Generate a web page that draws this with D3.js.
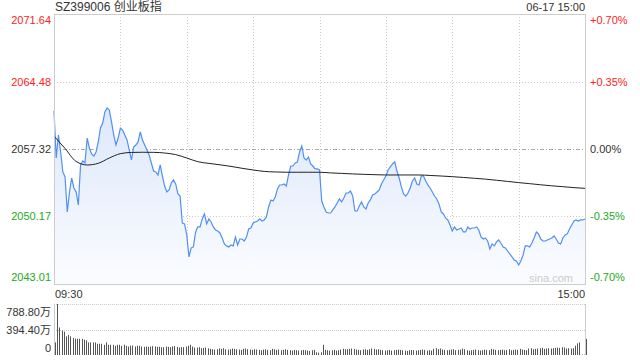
<!DOCTYPE html>
<html>
<head>
<meta charset="utf-8">
<script src="https://cdn.jsdelivr.net/npm/d3@7"></script>
<style>
body { margin:0; background:#fff; }
svg { display:block; font-family:"Liberation Sans", Arial, "Noto Sans CJK SC", sans-serif; }
</style>
</head>
<body>
<svg id="chart" width="640" height="360"></svg>
<script>
// minute prices 09:30 .. 11:30 / 13:01 .. 15:00
var prices = [
2061.35,2056.37,2058.81,2057.01,2054.89,2054.36,2050.65,2052.77,2054.25,2053.19,
2052.77,2051.39,2055.63,2056.05,2055.84,2058.49,2057.43,2056.80,2056.58,2057.01,
2058.07,2059.55,2060.08,2061.25,2061.67,2061.46,2060.19,2058.81,2057.75,2058.49,
2059.55,2059.34,2058.81,2058.28,2057.22,2056.16,2057.54,2057.75,2058.07,2059.13,
2058.28,2057.75,2057.22,2056.69,2055.84,2054.99,2054.89,2054.57,2055.63,2054.46,
2053.40,2052.77,2052.98,2053.72,2054.04,2053.62,2052.56,2052.34,2049.48,2049.38,
2048.21,2045.88,2046.83,2046.94,2048.53,2049.06,2049.06,2049.91,2050.44,2049.38,
2049.91,2049.59,2049.06,2048.74,2048.63,2048.42,2047.89,2047.26,2047.05,2046.94,
2047.15,2047.05,2047.99,2047.15,2047.78,2047.78,2047.57,2047.99,2048.84,2048.95,
2049.48,2049.59,2049.69,2049.91,2049.69,2049.80,2050.12,2051.18,2051.92,2051.81,
2052.24,2053.09,2053.51,2053.51,2053.62,2053.40,2054.57,2055.52,2055.52,2055.84,
2055.95,2057.01,2057.65,2056.37,2056.16,2056.48,2055.74,2055.52,2055.21,2055.21,
2055.10,2051.81,2051.18,2050.65,2050.54,2050.54,2050.86,2051.18,2051.60,2052.03,
2051.71,2052.13,2052.66,2052.66,2052.87,2052.34,2050.75,2050.75,2051.28,2051.71,
2051.18,2050.97,2051.60,2051.92,2052.45,2052.56,2052.77,2052.98,2053.62,2054.04,
2054.46,2055.10,2055.42,2055.74,2055.95,2054.99,2054.25,2053.30,2052.56,2052.34,
2052.66,2053.19,2053.93,2054.25,2053.62,2053.51,2054.46,2054.46,2053.93,2053.51,
2053.19,2052.77,2052.34,2052.03,2051.50,2050.65,2050.44,2050.01,2049.80,2049.27,
2048.63,2049.06,2048.74,2048.84,2048.95,2048.53,2048.53,2049.06,2048.84,2048.95,
2048.95,2049.06,2048.74,2047.99,2047.78,2047.89,2047.57,2046.73,2047.26,2047.05,
2047.47,2047.68,2047.36,2046.94,2046.83,2046.51,2046.20,2045.88,2045.56,2045.45,
2045.03,2045.45,2046.09,2047.05,2047.05,2046.94,2047.36,2047.89,2048.53,2048.32,
2047.78,2047.57,2047.57,2047.68,2047.78,2047.89,2048.10,2047.78,2047.36,2047.26,
2047.89,2048.21,2048.32,2048.84,2049.27,2049.69,2049.80,2049.69,2049.80,2049.80,
2049.91
];

// average price line, read every 5 minutes
var avgMinutes = [0,5,10,15,20,25,30,35,40,45,50,55,60,65,70,75,80,85,90,95,100,105,110,115,120,
  125,130,135,140,145,150,155,160,165,170,175,180,185,190,195,200,205,210,215,220,225,230,235,240];
var avgPrices = [2058.70,2057.38,2056.00,2055.63,2055.81,2056.37,2056.83,2056.96,2056.98,2056.97,
  2056.90,2056.73,2056.37,2055.98,2055.80,2055.65,2055.48,2055.28,2055.10,2054.95,2054.89,2054.86,
  2054.86,2054.86,2054.86,2054.79,2054.74,2054.68,2054.64,2054.60,2054.57,2054.57,2054.57,2054.57,
  2054.52,2054.46,2054.39,2054.31,2054.22,2054.13,2054.01,2053.89,2053.76,2053.65,2053.53,2053.42,
  2053.33,2053.23,2053.15];

// volume in 万
var volumes = [
195,788,426,378,361,289,310,289,263,252,
252,252,247,237,226,195,195,195,195,174,
174,174,158,195,158,158,158,142,158,158,
142,158,142,131,142,147,131,142,142,131,
126,131,126,131,137,131,126,126,121,121,
131,126,121,131,137,126,116,121,121,131,
142,158,131,116,116,121,105,110,116,105,
95,89,84,89,100,95,105,89,84,89,
100,95,89,84,79,95,100,89,84,79,
89,84,79,74,84,89,79,74,95,89,
79,84,74,79,89,79,74,68,79,74,
68,74,79,74,68,63,74,79,42,37,
42,158,79,74,68,74,79,68,74,84,
95,89,89,95,100,95,84,79,74,84,
89,79,89,100,95,84,89,79,74,68,
74,79,68,74,79,84,79,74,68,63,
74,79,74,68,74,79,84,79,68,74,
68,95,105,89,100,84,79,74,79,84,
89,74,79,84,100,89,74,68,74,79,
84,74,68,74,84,79,74,95,89,79,
74,79,84,74,79,89,74,79,84,79,
95,84,79,74,100,105,89,95,100,105,
110,95,100,105,100,105,110,116,110,121,
116,100,105,100,106,143,180,195,8,5,
249
];

var preClose = 2057.32;
var priceTicks = [2071.64, 2064.48, 2057.32, 2050.17, 2043.01];
var pctTicks = ["+0.70%", "+0.35%", "0.00%", "-0.35%", "-0.70%"];
var volTicks = [788.80, 394.40, 0];
var volTickLabels = ["788.80万", "394.40万", "0"];
var timeLabels = ["09:30", "15:00"];
var title = "SZ399006 创业板指";
var dateLabel = "06-17 15:00";

drawChart();

function drawChart() {
var svg = d3.select("#chart");
var pLeft = 54, pRight = 585, pTop = 14, pBottom = 284;
var volTop = 304, volBottom = 355;

var x = d3.scaleLinear().domain([0, 240]).range([pLeft, pRight]);
var y = d3.scaleLinear().domain([priceTicks[4], priceTicks[0]]).range([pBottom, pTop]);
var yv = d3.scaleLinear().domain([0, volTicks[0]]).range([volBottom, volTop]);

function colorFor(v) {
    if (Math.abs(v - preClose) < 0.005) return "#333";
    return v > preClose ? "#f22" : "#2a2";
}

// gradient fill
var defs = svg.append("defs");
var grad = defs.append("linearGradient")
    .attr("id", "fillGrad")
    .attr("gradientUnits", "userSpaceOnUse")
    .attr("x1", 0).attr("y1", 100).attr("x2", 0).attr("y2", pBottom);
grad.append("stop").attr("offset", "0%").attr("stop-color", "#dbe7fb");
grad.append("stop").attr("offset", "100%").attr("stop-color", "#fbfcff");

// grid
var grid = svg.append("g").attr("class", "grid");
d3.range(30, 240, 30).forEach(function(m) {
    grid.append("line")
        .attr("x1", Math.round(x(m)) + 0.5).attr("x2", Math.round(x(m)) + 0.5)
        .attr("y1", pTop).attr("y2", pBottom)
        .attr("stroke", "#ccc").attr("stroke-dasharray", "1,2");
});
priceTicks.slice(1, 4).forEach(function(v) {
    var mid = v === preClose;
    grid.append("line")
        .attr("x1", pLeft).attr("x2", pRight)
        .attr("y1", Math.round(y(v)) + 0.5).attr("y2", Math.round(y(v)) + 0.5)
        .attr("stroke", mid ? "#aaa" : "#ccc")
        .attr("stroke-dasharray", mid ? "4,2,1,2" : "1,2");
});

// area + price line
var area = d3.area()
    .x(function(d, i) { return x(i); })
    .y0(pBottom)
    .y1(function(d) { return y(d); });
svg.append("path")
    .datum(prices)
    .attr("d", area)
    .attr("fill", "url(#fillGrad)");

svg.append("text")
    .attr("x", 573).attr("y", 282)
    .attr("text-anchor", "end")
    .attr("font-size", 11)
    .attr("fill", "#ccc")
    .text("sina.com");

var line = d3.line()
    .x(function(d, i) { return x(i); })
    .y(function(d) { return y(d); });
svg.append("path")
    .datum(prices)
    .attr("d", line)
    .attr("fill", "none")
    .attr("stroke", "#5090f2")
    .attr("stroke-width", 1.2);

var avgLine = d3.line()
    .curve(d3.curveMonotoneX)
    .x(function(d, i) { return x(avgMinutes[i]); })
    .y(function(d) { return y(d); });
svg.append("path")
    .datum(avgPrices)
    .attr("d", avgLine)
    .attr("fill", "none")
    .attr("stroke", "#222")
    .attr("stroke-width", 1);

// frame of price panel
svg.append("rect")
    .attr("x", pLeft + 0.5).attr("y", pTop + 0.5)
    .attr("width", pRight - pLeft).attr("height", pBottom - pTop)
    .attr("fill", "none").attr("stroke", "#ccc");

// price labels
var lab = svg.append("g").attr("font-size", 11);
priceTicks.forEach(function(v, i) {
    var yy = y(v) + 4;
    if (i === 0) yy = pTop + 10;
    if (i === 4) yy = pBottom - 3;
    lab.append("text")
        .attr("x", 51).attr("y", yy)
        .attr("text-anchor", "end")
        .attr("fill", colorFor(v))
        .text(v.toFixed(2));
    lab.append("text")
        .attr("x", 590).attr("y", yy)
        .attr("fill", colorFor(v))
        .text(pctTicks[i]);
});

// header
svg.append("text")
    .attr("x", 55).attr("y", 11)
    .attr("font-size", 12)
    .attr("fill", "#333")
    .text(title);
svg.append("text")
    .attr("x", 585).attr("y", 11)
    .attr("font-size", 11)
    .attr("text-anchor", "end")
    .attr("fill", "#333")
    .text(dateLabel);

// time labels
svg.append("text")
    .attr("x", 55).attr("y", 298)
    .attr("font-size", 11).attr("fill", "#333")
    .text(timeLabels[0]);
svg.append("text")
    .attr("x", 585).attr("y", 298)
    .attr("font-size", 11).attr("fill", "#333")
    .attr("text-anchor", "end")
    .text(timeLabels[1]);

// volume panel
var vol = svg.append("g").attr("class", "vol");
volTicks.slice(0, 2).forEach(function(v) {
    vol.append("line")
        .attr("x1", pLeft).attr("x2", pRight)
        .attr("y1", Math.round(yv(v)) + 0.5).attr("y2", Math.round(yv(v)) + 0.5)
        .attr("stroke", "#ccc").attr("stroke-dasharray", "1,1");
});
vol.append("line")
    .attr("x1", pLeft + 0.5).attr("x2", pLeft + 0.5)
    .attr("y1", volTop).attr("y2", volBottom)
    .attr("stroke", "#ccc");
vol.append("line")
    .attr("x1", pRight + 0.5).attr("x2", pRight + 0.5)
    .attr("y1", volTop).attr("y2", volBottom)
    .attr("stroke", "#ccc");

vol.selectAll("rect.bar")
    .data(volumes)
    .enter().append("rect")
    .attr("class", "bar")
    .attr("x", function(d, i) { return Math.round(x(i)) + 1; })
    .attr("width", 1)
    .attr("y", function(d) { return yv(d); })
    .attr("height", function(d) { return volBottom - yv(d); })
    .attr("fill", "#555");

volTicks.forEach(function(v, i) {
    var yy = yv(v) + 4;
    if (i === 0) yy = volTop + 12;
    if (i === 2) yy = volBottom - 3;
    vol.append("text")
        .attr("x", 51).attr("y", yy)
        .attr("text-anchor", "end")
        .attr("font-size", 11)
        .attr("fill", "#333")
        .text(volTickLabels[i]);
});
}
</script>
</body>
</html>
